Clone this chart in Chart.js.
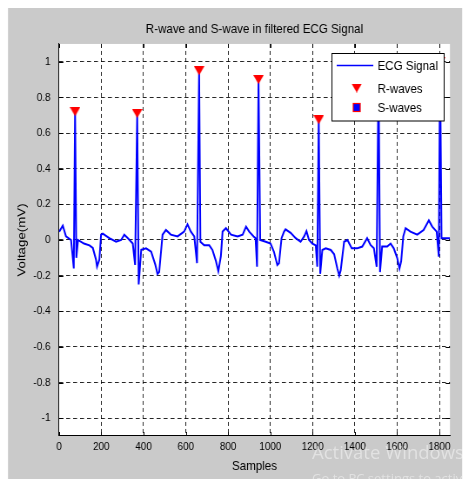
<!DOCTYPE html>
<html>
<head>
<meta charset="utf-8">
<script src="https://cdn.jsdelivr.net/npm/chart.js@4.4.1/dist/chart.umd.min.js"></script>
<style>
html, body { margin: 0; padding: 0; background: #fff; overflow: hidden; width: 467px; height: 479px; }
/* the original screenshot is squeezed sideways, so draw wide and squeeze */
#wrap { position: absolute; left: 0; top: 0; width: 537px; height: 479px; transform: scaleX(0.87); transform-origin: 0 0; }
#wm { position: absolute; left: 312px; top: 440px; font-family: 'Open Sans', sans-serif; color: rgba(255,255,255,0.45); font-size: 18.5px; line-height: 24px; white-space: nowrap; }
#wm span { font-size: 13px; }
</style>
</head>
<body>
<div id="wrap"><canvas id="ecgChart"></canvas></div>
<div id="wm">Activate Windows<br><span>Go to PC settings to activate Windows.</span></div>
<script>
// values
const ecgX = [1, 18, 33, 57, 70, 76, 82, 90, 118, 144, 160, 175, 180, 191, 199, 207, 238, 270, 294, 309, 326, 349,
  360, 370, 377, 389, 412, 436, 456, 466, 474, 490, 506, 529, 561, 592, 608, 624, 640,
  653, 663, 669, 687, 711, 726, 743, 754, 766, 774, 790, 814, 845, 869, 885, 900, 921, 930,
  937, 944, 952, 978, 1001, 1017, 1033, 1041, 1053, 1065, 1072, 1096, 1120, 1143, 1160, 1171, 1183, 1199, 1215,
  1222, 1229, 1236, 1246, 1262, 1286, 1302, 1317, 1326, 1333, 1349, 1365, 1385, 1411, 1435, 1458, 1474, 1490,
  1503, 1512, 1519, 1529, 1553, 1569, 1584, 1600, 1611, 1619, 1629, 1640, 1663, 1695, 1725, 1750, 1766, 1787,
  1797, 1803, 1810, 1829, 1850];
const ecgY = [0.047, 0.08, 0.02, 0.0, -0.16, 0.72, -0.1, 0.0, -0.02, -0.03, -0.045, -0.11, -0.15, -0.11, 0.03, 0.035, 0.01, -0.01, 0.0, 0.03, 0.01, -0.02,
  -0.14, 0.71, -0.25, -0.055, -0.047, -0.066, -0.14, -0.19, -0.18, 0.03, 0.056, 0.03, 0.02, 0.047, 0.088, 0.047, 0.02,
  -0.13, 0.95, -0.01, -0.03, -0.03, -0.056, -0.12, -0.175, -0.09, 0.047, 0.066, 0.03, 0.02, 0.03, 0.075, 0.047, 0.02, 0.01,
  -0.15, 0.90, 0.0, -0.01, -0.02, -0.066, -0.14, -0.13, 0.01, 0.047, 0.06, 0.04, 0.01, -0.01, 0.02, 0.05, 0.0, -0.02, -0.03,
  -0.15, 0.675, -0.19, -0.056, -0.047, -0.056, -0.08, -0.16, -0.2, -0.17, -0.01, 0.0, -0.047, -0.047, -0.037, 0.01, -0.028, -0.047,
  -0.15, 0.93, -0.18, -0.037, -0.037, -0.02, -0.047, -0.1, -0.16, -0.12, 0.02, 0.066, 0.047, 0.03, 0.056, 0.11, 0.075, 0.047,
  -0.094, 1.0, 0.01, 0.01, 0.01];
const rWaveX = [76, 370, 663, 944, 1229, 1512, 1803];
const rWaveY = [0.72, 0.71, 0.95, 0.90, 0.675, 0.93, 1.0];
const sWaveX = [];
const sWaveY = [];
const xTicks = [0, 200, 400, 600, 800, 1000, 1200, 1400, 1600, 1800];
const yTicks = [-1, -0.8, -0.6, -0.4, -0.2, 0, 0.2, 0.4, 0.6, 0.8, 1];

const FONT = "'Liberation Sans', Arial, sans-serif";
const GRAY = '#cacaca';

function pts(xs, ys) { return xs.map((x, i) => ({ x: x, y: ys[i] })); }

// red "v" marker
function triMarker(w, h) {
  const c = document.createElement('canvas');
  c.width = w; c.height = h;
  const g = c.getContext('2d');
  g.fillStyle = '#ff0000';
  g.beginPath(); g.moveTo(0, 0); g.lineTo(w, 0); g.lineTo(w / 2, h); g.closePath(); g.fill();
  return c;
}
const tri = triMarker(12, 9);

// gray figure, white axes box
const backdrop = {
  id: 'backdrop',
  beforeDraw(chart) {
    const { ctx, chartArea: a } = chart;
    ctx.save();
    ctx.fillStyle = '#fff';
    ctx.fillRect(0, 0, chart.width, chart.height);
    ctx.fillStyle = GRAY;
    ctx.fillRect(9.2, 8, 522, 471);
    ctx.fillStyle = '#fff';
    ctx.fillRect(a.left, a.top, a.right - a.left, a.bottom - a.top);
    ctx.restore();
  }
};

// short solid tick marks inside the box edges
const innerTicks = {
  id: 'innerTicks',
  beforeDatasetsDraw(chart) {
    const { ctx, chartArea: a, scales } = chart;
    ctx.save();
    ctx.strokeStyle = '#000';
    ctx.lineWidth = 1;
    ctx.beginPath();
    xTicks.forEach(v => {
      const px = Math.round(scales.x.getPixelForValue(v)) + 0.5;
      ctx.moveTo(px, a.top); ctx.lineTo(px, a.top + 4);
      ctx.moveTo(px, a.bottom); ctx.lineTo(px, a.bottom - 4);
    });
    yTicks.forEach(v => {
      const py = Math.round(scales.y.getPixelForValue(v)) + 0.5;
      ctx.moveTo(a.left, py); ctx.lineTo(a.left + 5, py);
      ctx.moveTo(a.right, py); ctx.lineTo(a.right - 5, py);
    });
    ctx.stroke();
    ctx.restore();
  }
};

// boxed legend, top right like the original
const boxLegend = {
  id: 'boxLegend',
  afterDraw(chart) {
    const ctx = chart.ctx;
    const L = 381.5, T = 53.5, R = 510.5, B = 121;
    ctx.save();
    ctx.fillStyle = '#fff';
    ctx.fillRect(L, T, R - L, B - T);
    ctx.strokeStyle = '#000';
    ctx.lineWidth = 1;
    ctx.strokeRect(L, T, R - L, B - T);
    // line sample
    ctx.strokeStyle = '#0000ff';
    ctx.lineWidth = 1.4;
    ctx.beginPath(); ctx.moveTo(387, 65.5); ctx.lineTo(429, 65.5); ctx.stroke();
    // R marker
    ctx.drawImage(tri, 410 - 6, 88 - 4.5);
    // S marker
    ctx.fillStyle = '#0000ff';
    ctx.strokeStyle = '#ff0000';
    ctx.lineWidth = 1.2;
    ctx.fillRect(406, 103.5, 8, 8);
    ctx.strokeRect(406, 103.5, 8, 8);
    ctx.fillStyle = '#000';
    ctx.font = '13.3px ' + FONT;
    ctx.textBaseline = 'middle';
    ctx.textAlign = 'left';
    ctx.fillText('ECG Signal', 434, 66);
    ctx.fillText('R-waves', 434, 89);
    ctx.fillText('S-waves', 434, 108);
    ctx.restore();
  }
};

new Chart(document.getElementById('ecgChart'), {
  type: 'line',
  data: {
    datasets: [
      { label: 'ECG Signal', data: pts(ecgX, ecgY), borderColor: '#0000ff', borderWidth: 2, pointRadius: 0, tension: 0, fill: false, order: 2 },
      { label: 'R-waves', data: pts(rWaveX, rWaveY), showLine: false, pointStyle: tri, pointRadius: 6, order: 0 },
      { label: 'S-waves', data: pts(sWaveX, sWaveY), showLine: false, pointStyle: 'rect', pointRadius: 4, backgroundColor: '#0000ff', borderColor: '#ff0000', order: 1 }
    ]
  },
  options: {
    responsive: true,
    maintainAspectRatio: false,
    animation: false,
    events: [],
    layout: { padding: { left: 0, right: 19.8, top: 0, bottom: 0 } },
    plugins: {
      legend: { display: false },
      tooltip: { enabled: false },
      title: {
        display: true,
        text: 'R-wave and S-wave in filtered ECG Signal',
        fullSize: false,
        color: '#000',
        font: { family: FONT, size: 13.3, weight: 'normal', lineHeight: 1.2 },
        padding: { top: 21.5, bottom: 6.5 }
      }
    },
    scales: {
      x: {
        type: 'linear',
        min: 0,
        max: 1850,
        afterBuildTicks(scale) { scale.ticks = xTicks.map(v => ({ value: v })); },
        afterFit(scale) { scale.height = 43; },
        ticks: { color: '#000', font: { family: FONT, size: 11.4 }, padding: 4.5, maxRotation: 0, autoSkip: false,
          callback: v => String(v) },
        grid: { color: 'rgba(0,0,0,0.85)', lineWidth: 1, drawTicks: false },
        border: { display: true, color: '#000', width: 1, dash: [4, 3] },
        title: { display: true, text: 'Samples', color: '#000', font: { family: FONT, size: 13.3 }, padding: { top: 4.5, bottom: 4.5 } }
      },
      y: {
        min: -1.1,
        max: 1.1,
        afterBuildTicks(scale) { scale.ticks = yTicks.map(v => ({ value: v })); },
        afterFit(scale) { scale.width = 67.8; },
        ticks: { color: '#000', font: { family: FONT, size: 11.4 }, padding: 9.8, autoSkip: false,
          callback: v => String(Math.round(v * 10) / 10) },
        grid: { color: 'rgba(0,0,0,0.85)', lineWidth: 1, drawTicks: false },
        border: { display: true, color: '#000', width: 1, dash: [4.6, 3.4] },
        title: { display: true, text: 'Voltage(mV)', color: '#000', font: { family: FONT, size: 13.3 }, padding: { top: 17.3, bottom: 17.3 } }
      }
    }
  },
  plugins: [backdrop, innerTicks, boxLegend]
});
</script>
</body>
</html>
